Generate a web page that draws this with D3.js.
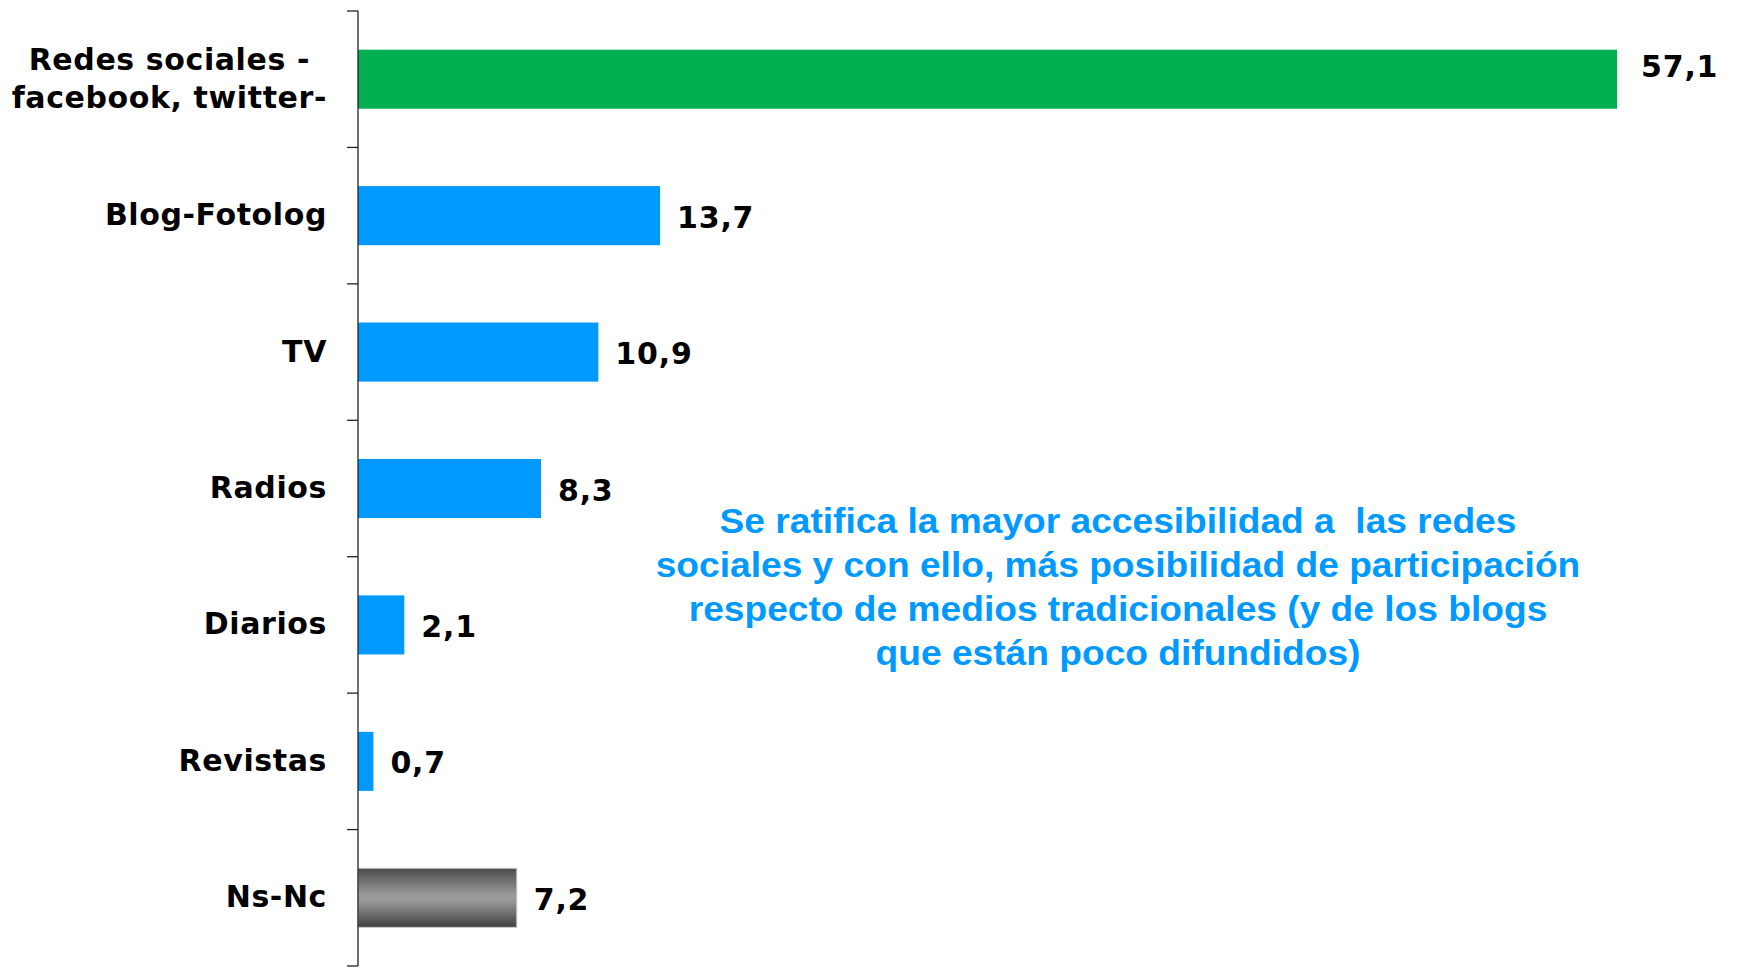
<!DOCTYPE html>
<html>
<head>
<meta charset="utf-8">
<script src="https://cdn.jsdelivr.net/npm/d3@7"></script>
<style>
  html, body { margin: 0; padding: 0; background: #ffffff; }
  svg { display: block; }
</style>
</head>
<body>
<svg id="chart" width="1738" height="973"></svg>
<script>
// Media categories (top to bottom) and their percentages
const categories = ["Redes sociales -\nfacebook, twitter-", "Blog-Fotolog", "TV", "Radios", "Diarios", "Revistas", "Ns-Nc"];
const values = [57.1, 13.7, 10.9, 8.3, 2.1, 0.7, 7.2];
const valueLabels = ["57,1", "13,7", "10,9", "8,3", "2,1", "0,7", "7,2"];
const barKinds = ["highlight", "regular", "regular", "regular", "regular", "regular", "none"];
const noteLines = [
  "Se ratifica la mayor accesibilidad a  las redes",
  "sociales y con ello, más posibilidad de participación",
  "respecto de medios tradicionales (y de los blogs",
  "que están poco difundidos)"
];

const svg = d3.select("#chart");
const axisX = 358, plotTop = 11, plotBottom = 966;
const pxPerUnit = 22.05;

const y = d3.scaleBand()
  .domain(categories)
  .range([plotTop, plotBottom])
  .paddingInner(0.567)
  .paddingOuter(0.2835);

const x = d3.scaleLinear()
  .domain([0, 57.1])
  .range([axisX, axisX + 57.1 * pxPerUnit]);

// Grey gradient for the "no answer" bar
const defs = svg.append("defs");
const grad = defs.append("linearGradient")
  .attr("id", "greyBar").attr("x1", 0).attr("y1", 0).attr("x2", 0).attr("y2", 1);
[["0%", "#4a4a4a"], ["45%", "#9a9a9a"], ["55%", "#9a9a9a"], ["100%", "#404040"]]
  .forEach(([o, c]) => grad.append("stop").attr("offset", o).attr("stop-color", c));

const fills = { highlight: "#00B050", regular: "#0099FF", none: "url(#greyBar)" };

// Bars
svg.append("g").selectAll("rect")
  .data(categories)
  .join("rect")
  .attr("x", x(0))
  .attr("y", d => y(d))
  .attr("width", (d, i) => x(values[i]) - x(0))
  .attr("height", y.bandwidth())
  .attr("fill", (d, i) => fills[barKinds[i]])
  .attr("stroke", (d, i) => barKinds[i] === "none" ? "#c8c8c8" : "none")
  .attr("stroke-width", 1);

// Value labels (the top one sits a little above its bar's centre)
svg.append("g").selectAll("text")
  .data(categories)
  .join("text")
  .attr("x", (d, i) => x(values[i]) + (i === 0 ? 24 : 17))
  .attr("y", (d, i) => y(d) + y.bandwidth() / 2 + (i === 0 ? -2.5 : 12))
  .attr("font-family", "'DejaVu Sans', Verdana, sans-serif")
  .attr("font-weight", "bold")
  .attr("font-size", 30)
  .attr("letter-spacing", 0.8)
  .attr("fill", "#000")
  .text((d, i) => valueLabels[i]);

// Category axis: vertical line with tick marks at band boundaries
const axisG = svg.append("g");
axisG.append("line")
  .attr("x1", axisX).attr("x2", axisX)
  .attr("y1", plotTop).attr("y2", plotBottom)
  .attr("stroke", "#222").attr("stroke-width", 1.3);
const boundaries = d3.range(categories.length + 1)
  .map(i => plotTop + i * (plotBottom - plotTop) / categories.length);
axisG.selectAll("line.tick")
  .data(boundaries)
  .join("line")
  .attr("class", "tick")
  .attr("x1", axisX - 11).attr("x2", axisX)
  .attr("y1", d => d).attr("y2", d => d)
  .attr("stroke", "#222").attr("stroke-width", 1.3);

// Category labels (multi-line labels are centred within their own block, block right-aligned)
const labelRight = 327;
const lineGap = 38;
categories.forEach(cat => {
  const lines = cat.split("\n");
  const cy = y(cat) + y.bandwidth() / 2;
  const g = svg.append("g");
  const texts = lines.map((ln, k) => g.append("text")
    .attr("y", cy + 9.5 + (k - (lines.length - 1) / 2) * lineGap)
    .attr("font-family", "'DejaVu Sans', Verdana, sans-serif")
    .attr("font-weight", "bold")
    .attr("font-size", 30)
    .attr("letter-spacing", 0.6)
    .attr("fill", "#000")
    .attr("text-anchor", "middle")
    .text(ln));
  const widths = texts.map(t => t.node().getComputedTextLength());
  const maxW = d3.max(widths);
  texts.forEach(t => t.attr("x", labelRight - maxW / 2));
});

// Commentary note
const noteCx = 1118;
const noteG = svg.append("g");
const noteTexts = noteLines.map((ln, k) => noteG.append("text")
  .attr("x", 0)
  .attr("y", 533 + k * 44)
  .attr("font-family", "'Liberation Sans', Arial, sans-serif")
  .attr("font-weight", "bold")
  .attr("font-size", 35)
  .attr("fill", "#0099FF")
  .attr("text-anchor", "middle")
  .style("white-space", "pre")
  .text(ln));
const w2 = noteTexts[1].node().getComputedTextLength();
const sx = 925 / w2;
noteG.attr("transform", `translate(${noteCx},0) scale(${sx},1)`);
</script>
</body>
</html>
